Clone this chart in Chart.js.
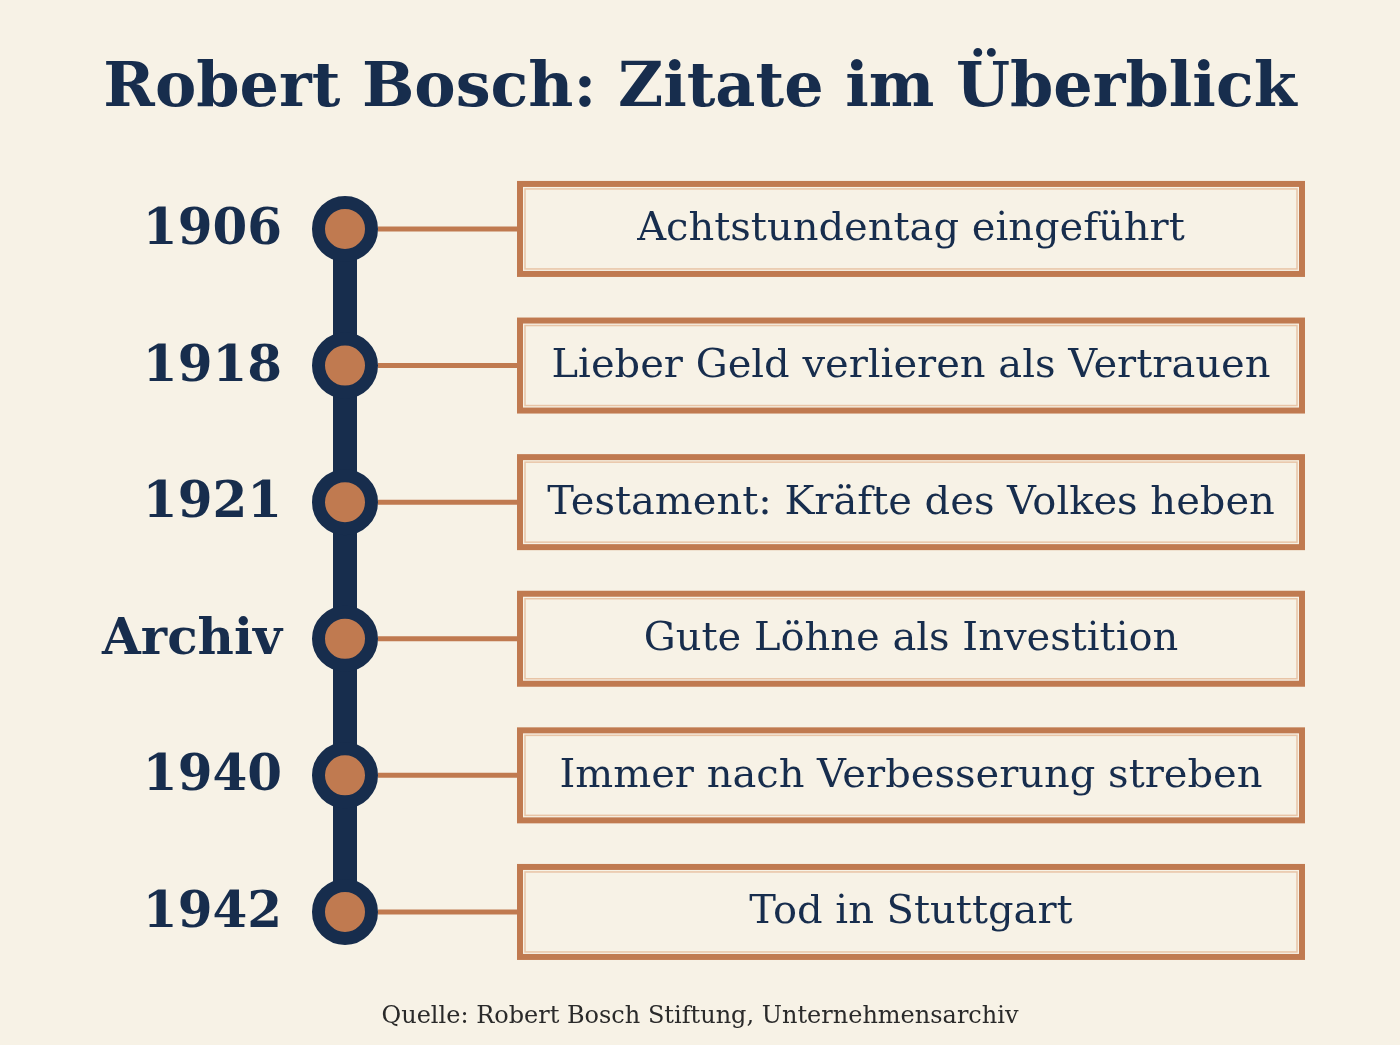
<!DOCTYPE html>
<html><head><meta charset="utf-8">
<script src="https://cdn.jsdelivr.net/npm/chart.js@4"></script>
<style>html,body{margin:0;padding:0;background:#f7f2e6}#w{width:1400px;height:1045px}</style>
</head><body><div id="w"><canvas id="c"></canvas></div>
<script>
const years = ["1906","1918","1921","Archiv","1940","1942"];
const quotes = ["Achtstundentag eingeführt","Lieber Geld verlieren als Vertrauen","Testament: Kräfte des Volkes heben","Gute Löhne als Investition","Immer nach Verbesserung streben","Tod in Stuttgart"];
const titleText = "Robert Bosch: Zitate im Überblick";
const sourceText = "Quelle: Robert Bosch Stiftung, Unternehmensarchiv";
const rowIdx = years.map((_, i) => i);

const NAVY = "#172d4d", COPPER = "#c07a50", SERIF = "'DejaVu Serif', serif";
const SPINE_X = 345, CONN_X0 = 378, BOX_X0 = 520, BOX_X1 = 1302;

const deco = {
  id: 'deco',
  beforeDatasetsDraw(ch) {
    const c = ch.ctx, xs = ch.scales.x, ys = ch.scales.y;
    c.save();
    rowIdx.forEach(i => {
      const y = ys.getPixelForValue(i);
      const x0 = xs.getPixelForValue(CONN_X0), xb = xs.getPixelForValue(BOX_X0), xe = xs.getPixelForValue(BOX_X1);
      c.strokeStyle = COPPER; c.lineWidth = 5;
      c.beginPath(); c.moveTo(x0, y); c.lineTo(xb, y); c.stroke();
      const h = 90;
      c.lineWidth = 6; c.strokeStyle = COPPER;
      c.strokeRect(xb, y - h/2, xe - xb, h);
      c.lineWidth = 1.5; c.strokeStyle = "#e8c4a6";
      c.strokeRect(xb + 5, y - h/2 + 5, xe - xb - 10, h - 10);
    });
    c.restore();
  },
  afterDatasetsDraw(ch) {
    const c = ch.ctx, xs = ch.scales.x, ys = ch.scales.y;
    c.save();
    c.fillStyle = NAVY; c.textBaseline = 'middle';
    c.font = "bold 62px " + SERIF; c.textAlign = 'center';
    c.fillText(titleText, 700, 90);
    rowIdx.forEach(i => {
      const y = ys.getPixelForValue(i);
      c.font = "bold 50px " + SERIF; c.textAlign = 'right';
      c.fillText(years[i], 282, y + 2);
      c.font = "40px " + SERIF; c.textAlign = 'center';
      c.fillText(quotes[i], (xs.getPixelForValue(BOX_X0) + xs.getPixelForValue(BOX_X1)) / 2, y + 1);
    });
    c.font = "24px " + SERIF; c.fillStyle = "#2a2a2a"; c.textAlign = 'center';
    c.fillText(sourceText, 700, 1017);
    c.restore();
  }
};

new Chart(document.getElementById('c'), {
  type: 'scatter',
  data: { datasets: [
    { data: rowIdx.map(i => ({x: SPINE_X, y: i})), showLine: true, borderColor: NAVY, borderWidth: 24, pointRadius: 0, order: 2 },
    { data: rowIdx.map(i => ({x: SPINE_X, y: i})), showLine: false, backgroundColor: COPPER, borderColor: NAVY, borderWidth: 13, pointRadius: 26.5, pointHoverRadius: 26.5, order: 1 }
  ]},
  options: {
    responsive: true, maintainAspectRatio: false, animation: false,
    layout: { padding: 0, autoPadding: false },
    plugins: { legend: { display: false }, tooltip: { enabled: false } },
    scales: {
      x: { type: 'linear', min: 0, max: 1400, display: false },
      y: { type: 'linear', min: -1.676, max: 5.974, reverse: true, display: false }
    }
  },
  plugins: [deco]
});
</script></body></html>
